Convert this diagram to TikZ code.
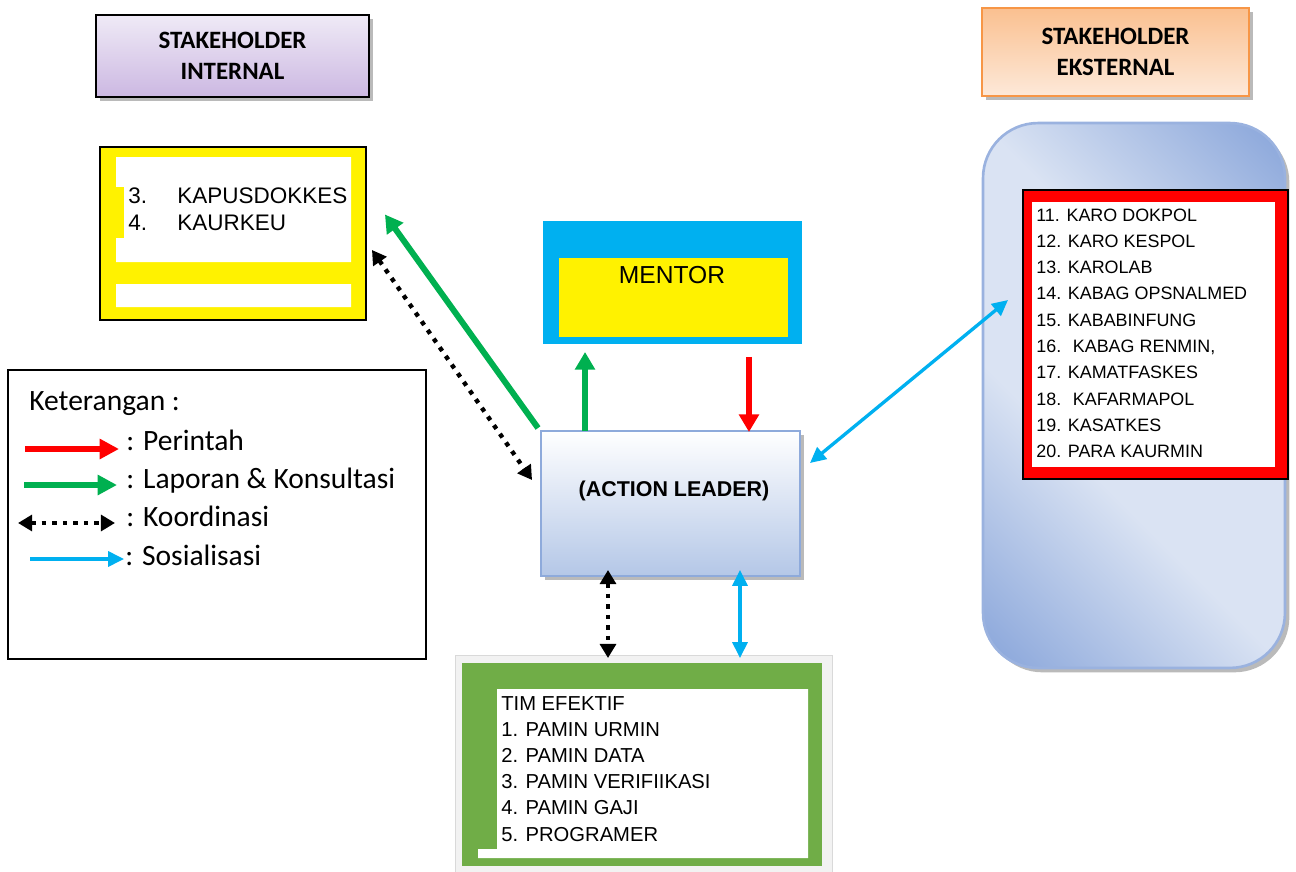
\documentclass[tikz,border=0pt]{standalone}
\usepackage{fontspec}
\setmainfont{Liberation Sans}
\newfontfamily\calfont{Carlito}
\usetikzlibrary{arrows.meta,calc,shadows}
\definecolor{cyanb}{HTML}{00B0F0}
\definecolor{greena}{HTML}{00B050}
\definecolor{greenbox}{HTML}{70AD47}
\definecolor{extlight}{HTML}{DAE3F3}
\definecolor{extdark}{HTML}{8FAADC}
\definecolor{alborder}{HTML}{8EAADB}
\definecolor{albottom}{HTML}{B4C7E7}
\definecolor{orgborder}{HTML}{F79646}
\definecolor{orgtop}{HTML}{FAC090}
\definecolor{orgbot}{HTML}{FDE9D9}
\definecolor{purtop}{HTML}{EFEAF6}
\definecolor{purbot}{HTML}{CCB8E2}
\pgfdeclarehorizontalshading{extshade}{100bp}{color(0bp)=(extdark); color(17bp)=(extdark); color(40bp)=(extlight); color(60bp)=(extlight); color(83bp)=(extdark); color(100bp)=(extdark)}
\begin{document}
\begin{tikzpicture}[x=0.02cm,y=-0.02cm,
  box/.style={rectangle,inner sep=0pt,outer sep=0pt},
  shd/.style={drop shadow={shadow xshift=2.5pt,shadow yshift=-2.5pt,fill=black!60,opacity=.45}},
  head/.style={box,draw,line width=1.1pt,font=\calfont\bfseries\fontsize{14.2}{17.5}\selectfont,align=center},
  arr/.style={line width=3.4pt,-{Triangle[length=10pt,width=11pt]}},
  dots/.style={line width=2.5pt,dash pattern=on 2.5pt off 3.5pt,{Triangle[length=8pt,width=9pt]}-{Triangle[length=8pt,width=9pt]}},
  sos/.style={cyanb,line width=1.9pt,{Triangle[length=9pt,width=8.5pt]}-{Triangle[length=9pt,width=8.5pt]}},
  lst/.style={anchor=base west,inner sep=0pt,font=\fontsize{11.5}{14}\selectfont},
  leglbl/.style={anchor=base west,inner sep=0pt,font=\calfont\fontsize{16.8}{18}\selectfont}]
\useasboundingbox (0,0) rectangle (1296,872);

\node[head,shd,top color=purtop,bottom color=purbot,minimum width=5.46cm,minimum height=1.64cm] (sint) at (232.5,56) {STAKEHOLDER\\INTERNAL};
\node[head,shd,draw=orgborder,top color=orgtop,bottom color=orgbot,minimum width=5.34cm,minimum height=1.76cm] (sext) at (1115.5,52) {STAKEHOLDER\\EKSTERNAL};

\node[box,draw,line width=1.1pt,fill=yellow,minimum width=5.32cm,minimum height=3.46cm] (yel) at (233,233.5) {};
\fill[white] (116,157) rectangle (351,262) (116,284) rectangle (351,307);
\fill[yellow] (116,187) rectangle (124,238);
\foreach \n/\t [count=\i from 0] in {3./KAPUSDOKKES,4./KAURKEU} {
    \node[lst,font=\fontsize{12.8}{14}\selectfont] (yn\i) at (128,203+27*\i) {\n};
    \node[lst,font=\fontsize{12.8}{14}\selectfont] (yt\i) at (177,203+27*\i) {\t};
}

\node[box,fill=cyanb,minimum width=5.18cm,minimum height=2.46cm] (mentor) at (672.5,282.5) {};
\fill[yellow] (559,258) rectangle (788,337);
\node[anchor=base,inner sep=0pt,font=\fontsize{14}{16}\selectfont] (mtxt) at (672,283) {MENTOR};

\node[box,shd,draw=alborder,line width=1.2pt,top color=white,bottom color=albottom,minimum width=5.18cm,minimum height=2.9cm] (al) at (670.5,503.5) {};
\node[inner sep=0pt,font=\bfseries\fontsize{12.2}{14}\selectfont] (altxt) at (674,491) {(ACTION LEADER)};

\node[box,shd,draw=extdark!90,line width=1.5pt,rounded corners=1.1cm,shade,shading=extshade,shading angle=45,minimum width=6.04cm,minimum height=10.9cm] (ext) at (1134,395.5) {};
\node[box,draw,line width=1.1pt,fill=red,minimum width=5.3cm,minimum height=5.78cm] (redbox) at (1155.5,334.5) {};
\fill[white] (1032,202) rectangle (1275,467);
\foreach \t [count=\i from 0] in {11. KARO DOKPOL,12. KARO KESPOL,13. KAROLAB,14. KABAG OPSNALMED,15. KABABINFUNG,{16. \ KABAG RENMIN,},17. KAMATFASKES,18. \ KAFARMAPOL,19. KASATKES,20. PARA KAURMIN} {
    \node[lst,font=\fontsize{10.2}{12}\selectfont] (ex\i) at (1036,221+26.3*\i) {\t};
}

\node[box,draw,line width=1.1pt,minimum width=8.36cm,minimum height=5.78cm] (leg) at (217,514.5) {};
\node[leglbl] (lket) at (29,410) {Keterangan :};
\node[leglbl] (lper) at (126,450) {: Perintah};
\node[leglbl] (llap) at (126,488) {: Laporan \& Konsultasi};
\node[leglbl] (lkoo) at (126,526) {: Koordinasi};
\node[leglbl] (lsos) at (125,565) {: Sosialisasi};
\draw[arr,red,line width=3.8pt,-{Triangle[length=11pt,width=11pt]}] ($(lper.base west)+(-101,-1)$) -- ($(lper.base west)+(-7,-1)$);
\draw[arr,greena,line width=3.8pt,-{Triangle[length=11pt,width=11pt]}] ($(llap.base west)+(-102,-3)$) -- ($(llap.base west)+(-9,-3)$);
\draw[dots] ($(lkoo.base west)+(-108,-3)$) -- ($(lkoo.base west)+(-11,-3)$);
\draw[sos,-{Triangle[length=9pt,width=8.5pt]}] ($(lsos.base west)+(-95,-6)$) -- ($(lsos.base west)+(-1,-6)$);

\node[box,fill=gray!10,draw=gray!30,minimum width=7.54cm,minimum height=4.34cm] (tim) at (643.5,763.5) {};
\fill[greenbox] (462,663) rectangle (822,866);
\fill[white] (497,689) rectangle (808,858) (478,849) rectangle (497,858);
\foreach \t [count=\i from 0] in {TIM EFEKTIF,1. PAMIN URMIN,2. PAMIN DATA,3. PAMIN VERIFIIKASI,4. PAMIN GAJI,5. PROGRAMER} {
    \node[lst] (tm\i) at (501,710+26.2*\i) {\t};
}

\draw[arr,greena] ($(al.north west)+(-3,-3)$) -- ($(yel.east)+(19,-19)$);
\draw[dots] ($(yel.east)+(6,16.5)$) -- ($(al.north west)+(-9,49)$);
\draw[arr,greena] ($(al.north west)+(44,0)$) -- ($(mentor.south west)+(42,8)$);
\draw[arr,red] ($(mentor.south)+(76.5,13)$) -- ($(al.north)+(78.5,1)$);
\draw[sos] ($(al.east)+(10,-40.5)$) -- ($(ext.west)+(25,-95.5)$);
\draw[dots] ($(al.south)+(-62.5,-6)$) -- ($(tim.north)+(-35.5,3)$);
\draw[sos] ($(al.south)+(69.5,-6)$) -- ($(tim.north)+(96.5,3)$);
\end{tikzpicture}
\end{document}
